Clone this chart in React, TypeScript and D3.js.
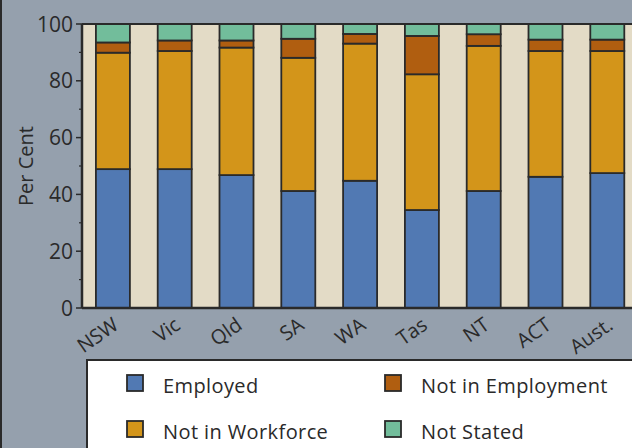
import React from "react";
import * as d3 from "d3";

const categories = ["NSW", "Vic", "Qld", "SA", "WA", "Tas", "NT", "ACT", "Aust."];
const employed = [48.9, 48.9, 46.8, 41.2, 44.8, 34.5, 41.2, 46.2, 47.5];
const notInWorkforce = [41.0, 41.6, 44.9, 46.9, 48.3, 47.8, 51.1, 44.3, 43.0];
const notInEmployment = [3.6, 3.7, 2.5, 6.7, 3.4, 13.5, 4.1, 4.0, 4.0];
const notStated = [6.5, 5.8, 5.8, 5.2, 3.5, 4.2, 3.6, 5.5, 5.5];
const seriesNames = ["Employed", "Not in Workforce", "Not in Employment", "Not Stated"];
const seriesColors = ["#5179b3", "#d3951a", "#b05e10", "#72bd9b"];
const yTicks = [0, 20, 40, 60, 80, 100];
const yMinorTicks = [10, 30, 50, 70, 90];

const W = 632;
const H = 448;
const FONT = "'Open Sans', sans-serif";
const INK = "#2a2a2a";

export default function App() {
  const plotLeft = 82;
  const plotTop = 24;
  const plotBottom = 308;
  const x = d3
    .scaleBand<string>()
    .domain(categories)
    .range([plotLeft, plotLeft + 9 * 61.8])
    .paddingInner(0.45)
    .paddingOuter(0.225);
  const y = d3.scaleLinear().domain([0, 100]).range([plotBottom, plotTop]);

  const rows = categories.map((c, i) => ({
    cat: c,
    s0: employed[i],
    s1: notInWorkforce[i],
    s2: notInEmployment[i],
    s3: notStated[i],
  }));
  const stack = d3.stack<any>().keys(["s0", "s1", "s2", "s3"]);
  const layers = stack(rows);

  const legendItems = [
    { name: seriesNames[0], color: seriesColors[0], x: 127, y: 375 },
    { name: seriesNames[2], color: seriesColors[2], x: 385, y: 375 },
    { name: seriesNames[1], color: seriesColors[1], x: 127, y: 421 },
    { name: seriesNames[3], color: seriesColors[3], x: 385, y: 421 },
  ];

  return (
    <svg
      width={W}
      height={H}
      style={{ position: "absolute", left: 0, top: 0, display: "block" }}
      fontFamily={FONT}
    >
      <rect x={0} y={0} width={W} height={H} fill="#95a0ad" />
      <line x1={1} y1={0} x2={1} y2={H} stroke={INK} strokeWidth={2} />
      {/* plot background */}
      <rect x={plotLeft} y={plotTop} width={W - plotLeft + 5} height={plotBottom - plotTop} fill="#e3dbc6" />
      {/* bars */}
      {layers.map((layer, li) => (
        <g key={li}>
          {layer.map((d, i) => (
            <rect
              key={i}
              x={x(categories[i])}
              y={y(d[1])}
              width={x.bandwidth()}
              height={y(d[0]) - y(d[1])}
              fill={seriesColors[li]}
              stroke={INK}
              strokeWidth={1.8}
            />
          ))}
        </g>
      ))}
      {/* frame */}
      <line x1={plotLeft} y1={plotTop} x2={W} y2={plotTop} stroke={INK} strokeWidth={2} />
      <line x1={plotLeft} y1={plotBottom} x2={W} y2={plotBottom} stroke={INK} strokeWidth={2.5} />
      <line x1={plotLeft} y1={plotTop} x2={plotLeft} y2={plotBottom} stroke={INK} strokeWidth={2.5} />
      {/* y ticks */}
      {yTicks.map((t) => (
        <g key={t}>
          <line x1={plotLeft - 6} x2={plotLeft} y1={y(t)} y2={y(t)} stroke={INK} strokeWidth={1.5} />
          <text x={73} y={y(t)} dy="0.36em" textAnchor="end" fontSize={21} fill={INK}>
            {t}
          </text>
        </g>
      ))}
      {yMinorTicks.map((t) => (
        <line key={t} x1={plotLeft - 3} x2={plotLeft} y1={y(t)} y2={y(t)} stroke={INK} strokeWidth={1.2} />
      ))}
      <text
        transform={`translate(33, ${(plotTop + plotBottom) / 2}) rotate(-90)`}
        textAnchor="middle"
        fontSize={20}
        fill={INK}
      >
        Per Cent
      </text>
      {/* x labels */}
      {categories.map((c) => (
        <text
          key={c}
          transform={`translate(${(x(c) as number) + x.bandwidth() / 2 + 7}, 328) rotate(-35)`}
          textAnchor="end"
          fontSize={20}
          fill={INK}
        >
          {c}
        </text>
      ))}
      {/* legend */}
      <rect x={87} y={360} width={W} height={H} fill="#ffffff" stroke={INK} strokeWidth={2} />
      {legendItems.map((it) => (
        <g key={it.name}>
          <rect x={it.x} y={it.y} width={16} height={16} fill={it.color} stroke={INK} strokeWidth={1.8} />
          <text x={it.x + 36} y={it.y + 18} fontSize={20} letterSpacing={0.4} fill={INK}>
            {it.name}
          </text>
        </g>
      ))}
    </svg>
  );
}
